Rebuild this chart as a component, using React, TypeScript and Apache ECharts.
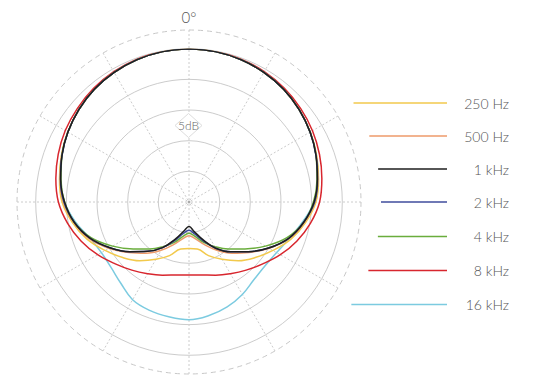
import React, { useEffect, useRef } from "react";
import * as echarts from "echarts";

const angles = [0, 10, 20, 30, 40, 50, 60, 70, 80, 90, 100, 110, 120, 130, 140, 150, 160, 170, 180,
  190, 200, 210, 220, 230, 240, 250, 260, 270, 280, 290, 300, 310, 320, 330, 340, 350, 360];

const seriesNames = ["250 Hz", "500 Hz", "1 kHz", "2 kHz", "4 kHz", "8 kHz", "16 kHz"];
const seriesColors = ["#f2c94c", "#ee9a6a", "#1e1e1e", "#3f4c9c", "#6aad3c", "#d8262e", "#7ccbe0"];

const hz250 = [0, -0.1, -0.3, -0.6, -1.0, -1.55, -2.15, -2.85, -3.55, -4.3, -5.7, -7.3, -9.2, -10.9, -12.5, -14.2, -15.7, -17.2, -17.4,
  -17.2, -15.7, -14.2, -12.5, -10.9, -9.2, -7.3, -5.7, -4.3, -3.55, -2.85, -2.15, -1.55, -1.0, -0.6, -0.3, -0.1, 0];
const hz500 = [0, -0.1, -0.3, -0.6, -1.0, -1.55, -2.2, -2.9, -3.7, -4.5, -5.9, -7.6, -9.9, -12.2, -14.1, -15.9, -17.6, -18.9, -19.5,
  -18.9, -17.6, -15.9, -14.1, -12.2, -9.9, -7.6, -5.9, -4.5, -3.7, -2.9, -2.2, -1.55, -1.0, -0.6, -0.3, -0.1, 0];
const khz1 = [0, -0.1, -0.3, -0.6, -1.0, -1.55, -2.2, -2.95, -3.75, -4.6, -6.0, -7.7, -10.0, -12.4, -14.4, -16.3, -18.5, -20.1, -21.0,
  -20.2, -18.6, -16.4, -14.5, -12.4, -10.1, -7.8, -6.0, -4.7, -3.75, -2.95, -2.2, -1.55, -1.0, -0.6, -0.3, -0.1, 0];
const khz2 = [0, -0.1, -0.3, -0.6, -1.0, -1.55, -2.2, -2.95, -3.7, -4.5, -6.0, -7.7, -10.0, -12.4, -14.4, -16.3, -18.3, -19.7, -20.4,
  -19.8, -18.4, -16.4, -14.5, -12.4, -10.1, -7.8, -6.0, -4.6, -3.7, -2.95, -2.2, -1.55, -1.0, -0.6, -0.3, -0.1, 0];
const khz4 = [0, -0.1, -0.3, -0.6, -1.0, -1.55, -2.2, -2.95, -3.8, -4.7, -6.0, -8.0, -10.6, -13.1, -15.0, -16.6, -18.0, -19.3, -19.9,
  -19.3, -18.0, -16.6, -15.0, -13.1, -10.6, -8.0, -6.0, -4.7, -3.8, -2.95, -2.2, -1.55, -1.0, -0.6, -0.3, -0.1, 0];
const khz8 = [0, -0.05, -0.2, -0.45, -0.8, -1.25, -1.75, -2.35, -3.0, -3.7, -4.9, -6.3, -7.8, -9.3, -10.5, -11.5, -12.3, -12.9, -13.1,
  -12.9, -12.3, -11.5, -10.5, -9.3, -7.8, -6.3, -4.9, -3.7, -2.95, -2.3, -1.7, -1.25, -0.8, -0.45, -0.2, -0.05, 0];
const khz16 = [0, -0.1, -0.3, -0.6, -1.0, -1.55, -2.2, -2.9, -3.6, -4.6, -6.2, -7.6, -8.5, -8.8, -8.5, -7.6, -6.8, -6.2, -5.8,
  -6.0, -6.2, -6.6, -7.7, -8.4, -8.5, -7.8, -6.2, -4.7, -3.6, -2.9, -2.2, -1.55, -1.0, -0.6, -0.3, -0.1, 0];

const seriesValues = [hz250, hz500, khz1, khz2, khz4, khz8, khz16];
// drawing order (bottom to top)
const drawOrder = [6, 5, 0, 1, 4, 3, 2];

const FONT = "Lato, 'Open Sans', sans-serif";

export default function App() {
  const ref = useRef<HTMLDivElement>(null);
  useEffect(() => {
    if (!ref.current) return;
    const chart = echarts.init(ref.current, undefined, { renderer: "svg" });
    const cx = 189;
    const cy = 202;

    const series = drawOrder.map((idx) => ({
      name: seriesNames[idx],
      type: "line",
      coordinateSystem: "polar",
      polarIndex: 0,
      data: seriesValues[idx].map((v, i) => [v, angles[i]]),
      showSymbol: false,
      symbol: "none",
      smooth: 0.4,
      clip: false,
      lineStyle: { color: seriesColors[idx], width: 1.5 },
      z: 3,
    }));

    const legendY = [103, 136, 169, 202, 236.5, 270.5, 304.5];
    const legendGraphics: any[] = [];
    seriesNames.forEach((name, i) => {
      const y = legendY[i];
      const dy = y - cy;
      const xs = cx + Math.sqrt(192 * 192 - dy * dy);
      legendGraphics.push({
        type: "line",
        shape: { x1: xs, y1: y, x2: 447, y2: y },
        style: { stroke: seriesColors[i], lineWidth: 1.5 },
      });
      legendGraphics.push({
        type: "text",
        x: 509,
        y: y,
        style: {
          text: name,
          fill: "#555",
          font: `300 14px ${FONT}`,
          align: "right",
          verticalAlign: "middle",
        },
      });
    });

    chart.setOption({
      animation: false,
      backgroundColor: "#ffffff",
      polar: [
        { center: [cx, cy], radius: 153.3 },
        { center: [cx, cy], radius: 172 },
      ],
      angleAxis: [
        {
          polarIndex: 0,
          type: "value",
          min: 0,
          max: 360,
          interval: 30,
          startAngle: 90,
          clockwise: true,
          axisLine: { show: false },
          axisTick: { show: false },
          axisLabel: { show: false },
          splitLine: { show: false },
        },
        {
          polarIndex: 1,
          type: "value",
          min: 0,
          max: 360,
          interval: 30,
          startAngle: 90,
          clockwise: true,
          axisLine: { show: true, lineStyle: { color: "#c8c8c8", width: 1, type: [5, 4] } },
          axisTick: { show: false },
          axisLabel: {
            show: true,
            margin: 6,
            color: "#555",
            fontFamily: FONT,
            fontWeight: 300,
            fontSize: 15,
            formatter: (v: number) => (v === 0 ? "0°" : ""),
          },
          splitLine: { show: true, lineStyle: { color: "#cccccc", width: 1, type: [2, 2] } },
        },
      ],
      radiusAxis: [
        {
          polarIndex: 0,
          type: "value",
          min: -25,
          max: 0,
          interval: 5,
          axisLine: { show: false },
          axisTick: { show: false },
          axisLabel: { show: false },
          splitLine: { show: true, lineStyle: { color: "#cccccc", width: 1 } },
        },
        {
          polarIndex: 1,
          type: "value",
          min: 0,
          max: 1,
          axisLine: { show: false },
          axisTick: { show: false },
          axisLabel: { show: false },
          splitLine: { show: false },
        },
      ],
      graphic: [
        {
          type: "polygon",
          shape: { points: [[188.5, 113.5], [202, 125.5], [188.5, 137.5], [175, 125.5]] },
          style: { fill: "#ffffff", stroke: "#dddddd", lineWidth: 1 },
          z: 10,
        },
        {
          type: "text",
          x: 188.5,
          y: 125.5,
          style: {
            text: "5dB",
            fill: "#666",
            font: `300 12px ${FONT}`,
            align: "center",
            verticalAlign: "middle",
          },
          z: 11,
        },
        {
          type: "circle",
          shape: { cx: cx, cy: cy, r: 1.3 },
          style: { fill: "#aaaaaa" },
          z: 10,
        },
        ...legendGraphics,
      ],
      series,
    });
    return () => chart.dispose();
  }, []);
  return (
    <div
      ref={ref}
      style={{ position: "fixed", left: 0, top: 0, width: 539, height: 388 }}
    />
  );
}
